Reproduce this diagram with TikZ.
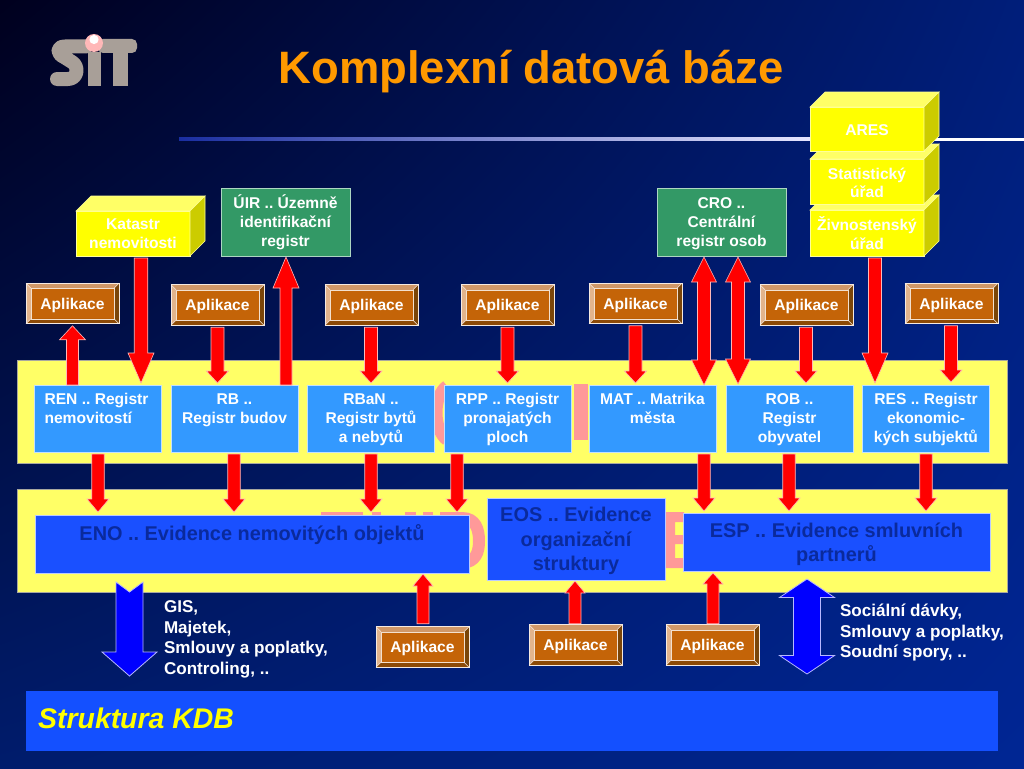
\documentclass[tikz,border=0pt]{standalone}
\usepackage{fontspec}
\setmainfont{Liberation Sans}
\usetikzlibrary{calc,shadings}
\definecolor{bgUL}{HTML}{00001E}
\definecolor{bgUR}{HTML}{001E7A}
\definecolor{bgLL}{HTML}{001C6C}
\definecolor{bgLR}{HTML}{002694}
\definecolor{bandY}{HTML}{FFFF66}
\definecolor{bandE}{HTML}{A8A8A0}
\definecolor{rowB}{HTML}{3399FF}
\definecolor{evB}{HTML}{1A50FF}
\definecolor{evT}{HTML}{0A2A9C}
\definecolor{barB}{HTML}{1450FF}
\definecolor{grn}{HTML}{339966}
\definecolor{titleO}{HTML}{FF9900}
\definecolor{appC}{HTML}{C46408}
\definecolor{bevL}{HTML}{E2B48C}
\definecolor{bevT}{HTML}{D09868}
\definecolor{bevB}{HTML}{8C4A06}
\definecolor{bevR}{HTML}{7A4508}
\definecolor{yelS}{HTML}{CCCC00}
\definecolor{yelF}{HTML}{FFFF00}
\definecolor{pinkG}{HTML}{FF9999}
\definecolor{logoG}{HTML}{A89F98}
\definecolor{ruleB}{HTML}{1A2EA0}
\newcommand\fs[2]{\fontsize{#1}{#2}\selectfont\frenchspacing}
\newcommand\toptext[4]{\parbox[c][#1pt][t]{#2pt}{\vspace{#3pt}#4}}
\newcommand\appbox[3]{%
  \node[appnode] (#1) at (#2,#3) {Aplikace};
  \fill[bevT] (#1.north west)--(#1.north east)--($(#1.north east)+(-5,5)$)--($(#1.north west)+(5,5)$)--cycle;
  \fill[bevL] (#1.north west)--(#1.south west)--($(#1.south west)+(5,-5)$)--($(#1.north west)+(5,5)$)--cycle;
  \fill[bevB] (#1.south west)--(#1.south east)--($(#1.south east)+(-5,-5)$)--($(#1.south west)+(5,-5)$)--cycle;
  \fill[bevR] (#1.north east)--(#1.south east)--($(#1.south east)+(-5,-5)$)--($(#1.north east)+(-5,5)$)--cycle;
  \draw[white!80!bevT,line width=.6pt] (#1.north west) rectangle (#1.south east);
  \draw[white!80!appC,line width=.45pt] ($(#1.north west)+(5,5)$) rectangle ($(#1.south east)+(-5,-5)$);
  \draw[white!80!bevT,line width=.4pt] (#1.north west)--+(5,5) (#1.north east)--+(-5,5) (#1.south west)--+(5,-5) (#1.south east)--+(-5,-5);
}
\newcommand\cuboid[5]{% name, cx, cy, h, text
  \node[cubenode,minimum height=#4pt] (#1) at (#2,#3) {#5};
  \draw[cubeedge,fill=bandY] (#1.north west)--+(15,-15)--($(#1.north east)+(15,-15)$)--(#1.north east)--cycle;
  \draw[cubeedge,fill=yelS] (#1.north east)--+(15,-15)--($(#1.south east)+(15,-15)$)--(#1.south east)--cycle;
}
% vertical block arrow: style, x, from, to, shaft, head width, head length, gap at start, gap at end
\newcommand\farrow[9]{%
  \path (#3); \pgfgetlastxy{\xa}{\ya}%
  \path (#4); \pgfgetlastxy{\xb}{\yb}%
  \pgfmathsetmacro\ys{-\ya}\pgfmathsetmacro\ye{-\yb}%
  \pgfmathsetmacro\sg{ifthenelse(\ye>\ys,1,-1)}%
  \pgfmathsetmacro\yS{\ys+\sg*#8}\pgfmathsetmacro\yT{\ye-\sg*#9}%
  \pgfmathsetmacro\yB{\yT-\sg*#7}%
  \pgfmathsetmacro\xl{#2-#5/2}\pgfmathsetmacro\xr{#2+#5/2}%
  \pgfmathsetmacro\hl{#2-#6/2}\pgfmathsetmacro\hr{#2+#6/2}%
  \draw[#1] (\xl,\yS)--(\xl,\yB)--(\hl,\yB)--(#2,\yT)--(\hr,\yB)--(\xr,\yB)--(\xr,\yS)--cycle;
}
\newcommand\darrow[9]{%
  \path (#3); \pgfgetlastxy{\xa}{\ya}%
  \path (#4); \pgfgetlastxy{\xb}{\yb}%
  \pgfmathsetmacro\ys{-\ya}\pgfmathsetmacro\ye{-\yb}%
  \pgfmathsetmacro\sg{ifthenelse(\ye>\ys,1,-1)}%
  \pgfmathsetmacro\yS{\ys+\sg*#8}\pgfmathsetmacro\yT{\ye-\sg*#9}%
  \pgfmathsetmacro\yB{\yT-\sg*#7}\pgfmathsetmacro\yC{\yS+\sg*#7}%
  \pgfmathsetmacro\xl{#2-#5/2}\pgfmathsetmacro\xr{#2+#5/2}%
  \pgfmathsetmacro\hl{#2-#6/2}\pgfmathsetmacro\hr{#2+#6/2}%
  \draw[#1] (#2,\yS)--(\hl,\yC)--(\xl,\yC)--(\xl,\yB)--(\hl,\yB)--(#2,\yT)--(\hr,\yB)--(\xr,\yB)--(\xr,\yC)--(\hr,\yC)--cycle;
}
\tikzset{
  band/.style={fill=bandY,draw=bandE,line width=.7pt},
  rowbox/.style={fill=rowB,draw=white!70!rowB,line width=.7pt,minimum width=127pt,minimum height=67pt,inner sep=0pt,outer sep=0pt,text=white,font=\bfseries\fs{15.6}{19}},
  evbox/.style={fill=evB,draw=white!70!evB,line width=.7pt,inner sep=0pt,outer sep=0pt,text=evT,font=\bfseries\fs{19.9}{24.3}},
  greenbox/.style={fill=grn,draw=white!60!grn,line width=.8pt,minimum width=129pt,minimum height=68pt,inner sep=0pt,outer sep=0pt,text=white,align=center,font=\bfseries\fs{15.6}{19}},
  appnode/.style={fill=appC,minimum width=93pt,minimum height=40.5pt,inner sep=0pt,outer sep=0pt,text=white,text height=11pt,text depth=0pt,font=\bfseries\fs{15.6}{20}},
  cubenode/.style={fill=yelF,draw=white!60!yelF,line width=.6pt,minimum width=114pt,inner sep=0pt,outer sep=0pt,text=white,align=center,font=\bfseries\fs{15.6}{18.8}},
  cubeedge/.style={draw=white!60!yelF,line width=.6pt,line join=miter},
  redarrow/.style={fill=red,draw=white!72!red,line width=.6pt,line join=miter},
  bluearrow/.style={fill=blue,draw=white!72!blue,line width=.8pt,line join=miter},
  sidelabel/.style={inner sep=0pt,outer sep=0pt,text=white,align=left,font=\bfseries\fs{17.07}{20.7}},
  glyph/.style={fill=pinkG},
}
\begin{document}
\begin{tikzpicture}[x=1pt,y=-1pt]
\useasboundingbox (0,0) rectangle (1024,768);
% background
\shade[upper left=bgUL,upper right=bgUR,lower left=bgLL,lower right=bgLR] (0,0) rectangle (1024,768);
% logo
\draw[logoG,line width=14pt,line cap=round,line join=round] (86,46.5)--(65,46.5) .. controls (56,46.5) and (57,54) .. (64,57) -- (72,62) .. controls (79,66) and (78,79) .. (68,79) -- (57,79);
\fill[logoG] (88,52) rectangle (101,86);
\fill[logoG] (113,50) rectangle (128,86);
\fill[logoG,rounded corners=5pt] (98,39) rectangle (137,53);
\fill[pinkG!70!white] (94,43) circle (9);
\fill[white] (94,39.5) circle (4.6);
% title and rule
\node[text=titleO,inner sep=0pt,font=\bfseries\fs{45.4}{50}] (title) at (531,71.5) {Komplexní datová báze};
\shade[left color=ruleB,right color=white!90!blue] (179,137.8) rectangle (810,140.8);
\fill[white] (810,137.8) rectangle (1024,140.8);
% bands
\path[band] (17,360) rectangle (1007,463);
\path[band] (17,489) rectangle (1007,592);
% pink letter fragments behind the boxes
\draw[pinkG,line width=12pt] (447,386) .. controls (433,395) and (433,430) .. (447,440);
\fill[glyph] (574,384) rectangle (588,440);
\fill[glyph] (321,512) rectangle (363,520);
\fill[glyph] (372,512) rectangle (381,520);
\fill[glyph] (405,512) rectangle (416,520);
\fill[glyph] (423,512) rectangle (433,520);
\draw[pinkG,line width=12pt] (440,518)--(462,518) .. controls (476,518) and (479,530) .. (479,541) .. controls (479,552) and (476,562) .. (462,563);
\fill[glyph] (665,512)--(684,512)--(684,522)--(675,522)--(675,535)--(684,535)--(684,544)--(675,544)--(675,558)--(684,558)--(684,568)--(665,568)--cycle;
% row 1 registers
\node[rowbox] (ren) at (98,418.5) {\toptext{67}{127}{8.6}{\hspace*{10pt}REN .. Registr\\\hspace*{10pt}nemovitostí}};
\node[rowbox] (rb) at (234.5,418.5) {\toptext{67}{127}{8.6}{\centering RB ..\\Registr budov}};
\node[rowbox] (rban) at (371,418.5) {\toptext{67}{127}{8.6}{\centering RBaN ..\\Registr bytů\\a nebytů}};
\node[rowbox] (rpp) at (507.5,418.5) {\toptext{67}{127}{8.6}{\centering RPP .. Registr\\pronajatých\\ploch}};
\node[rowbox] (mat) at (652.5,418.5) {\toptext{67}{127}{8.6}{\centering MAT .. Matrika\\města}};
\node[rowbox] (rob) at (789.5,418.5) {\toptext{67}{127}{8.6}{\centering ROB ..\\Registr\\obyvatel}};
\node[rowbox] (res) at (926,418.5) {\toptext{67}{127}{8.6}{\centering RES .. Registr\\ekonomic-\\kých subjektů}};
% row 2 evidences
\node[evbox,minimum width=434pt,minimum height=58pt] (eno) at (252,544) {\toptext{58}{434}{9.5}{\centering ENO .. Evidence nemovitých objektů}};
\node[evbox,minimum width=178pt,minimum height=82pt] (eos) at (576,539) {\toptext{82}{178}{9.5}{\centering EOS .. Evidence\\organizační\\struktury}};
\node[evbox,minimum width=307pt,minimum height=58pt] (esp) at (836.5,542) {\toptext{58}{307}{9.5}{\centering ESP .. Evidence smluvních\\partnerů}};
% bottom bar
\fill[barB] (26,691) rectangle (998,751);
\node[anchor=west,inner sep=0pt,text=yelF,font=\bfseries\itshape\fs{28.4}{32}] (kdb) at (38,718) {Struktura KDB};
% external sources
\cuboid{kat}{133}{233.5}{45}{Katastr\\nemovitosti}
\node[greenbox] (uir) at (285.5,222) {ÚIR .. Územně\\identifikační\\registr};
\node[greenbox] (cro) at (721.5,222) {\rule{0pt}{14.3pt}CRO ..\\Centrální\\registr osob};
\cuboid{ziv}{867}{233}{46}{Živnostenský\\úřad}
\cuboid{sta}{867}{181.5}{45}{\rule{0pt}{14.3pt}Statistický\\úřad}
\cuboid{ares}{867}{129}{44}{\rule{0pt}{13pt}ARES}
% applications
\appbox{a1}{72.5}{303.5}
\appbox{a2}{217.5}{305}
\appbox{a3}{371.5}{305}
\appbox{a4}{507.5}{305}
\appbox{a5}{635.5}{303.5}
\appbox{a6}{806.5}{305}
\appbox{a7}{951.5}{303.5}
\appbox{a8}{422.5}{647}
\appbox{a9}{575.5}{645}
\appbox{a10}{712.5}{645}
% red connectors
\farrow{redarrow}{141}{kat.south}{ren.north}{13.5}{26}{30}{2}{2}
\farrow{redarrow}{72.5}{ren.north}{a1.south}{12}{26}{14}{0}{2}
\farrow{redarrow}{217.5}{a2.south}{rb.north}{13}{22}{12}{2}{2}
\farrow{redarrow}{286}{rb.north}{uir.south}{12}{26}{31}{0}{1}
\farrow{redarrow}{371}{a3.south}{rban.north}{13}{22}{12}{2}{2}
\farrow{redarrow}{507.5}{a4.south}{rpp.north}{13}{22}{12}{2}{2}
\farrow{redarrow}{635.5}{a5.south}{mat.north}{13}{22}{12}{2}{2}
\farrow{redarrow}{806}{a6.south}{rob.north}{13}{22}{12}{2}{2}
\farrow{redarrow}{951}{a7.south}{res.north}{13}{22}{12}{2}{3}
\farrow{redarrow}{875}{ziv.south}{res.north}{13}{26}{30}{2}{2}
\darrow{redarrow}{704}{mat.north}{cro.south}{13}{25}{25}{0}{1}
\darrow{redarrow}{738}{rob.north}{cro.south}{13}{25}{25}{1}{1}
\farrow{redarrow}{98}{ren.south}{eno.north}{12.5}{22}{13}{2}{3}
\farrow{redarrow}{234}{rb.south}{eno.north}{12.5}{22}{13}{2}{3}
\farrow{redarrow}{371}{rban.south}{eno.north}{12.5}{22}{13}{2}{3}
\farrow{redarrow}{457}{rpp.south}{eno.north}{12.5}{22}{13}{2}{3}
\farrow{redarrow}{704}{mat.south}{esp.north}{12.5}{22}{13}{2}{2}
\farrow{redarrow}{789}{rob.south}{esp.north}{12.5}{22}{13}{2}{2}
\farrow{redarrow}{926}{res.south}{esp.north}{12.5}{22}{13}{2}{2}
\farrow{redarrow}{423}{a8.north}{eno.south}{12}{20}{12}{3}{1}
\farrow{redarrow}{575}{a9.north}{eos.south}{12}{20}{12}{1}{1}
\farrow{redarrow}{713}{a10.north}{esp.south}{12}{20}{11}{1}{2}
% blue arrows with free ends
\coordinate (gisA) at (129.5,582);
\draw[bluearrow] (gisA)++(-13.5,0)--++(13.5,10)--++(13.5,-10)--++(0,70)--++(14,0)--++(-27.5,24)--++(-27.5,-24)--++(14,0)--cycle;
\coordinate (socA) at (807,579);
\coordinate (socB) at (807,674);
\darrow{bluearrow}{807}{socA}{socB}{27}{55}{18.5}{0}{0}
% side labels
\node[sidelabel,anchor=north west] (gis) at (164,600.5) {GIS,\\Majetek,\\Smlouvy a poplatky,\\Controling, ..};
\node[sidelabel,anchor=north west] (soc) at (840,604) {Sociální dávky,\\Smlouvy a poplatky,\\Soudní spory, ..};
\end{tikzpicture}
\end{document}
